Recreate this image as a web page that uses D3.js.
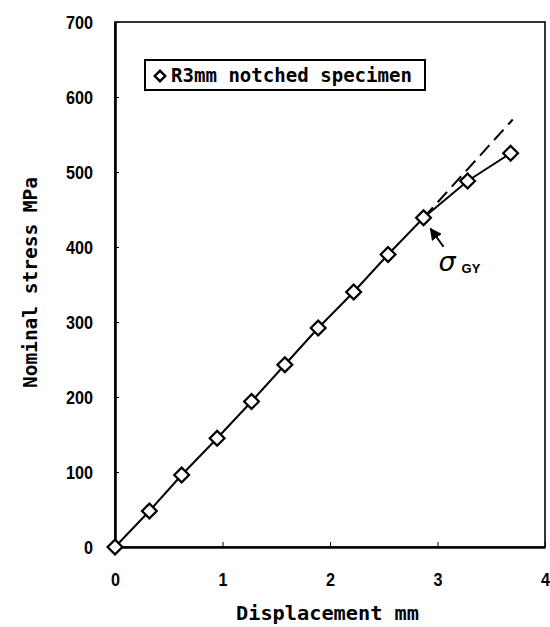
<!DOCTYPE html>
<html>
<head>
<meta charset="utf-8">
<script src="https://d3js.org/d3.v7.min.js"></script>
<style>
body { margin: 0; background: #fff; }
.tick text { font-family: "Liberation Sans", sans-serif; font-size: 19px; fill: #000; font-weight: bold; }
.lab { font-family: "DejaVu Sans Mono", monospace; font-size: 19px; fill: #000; font-weight: bold; }
</style>
</head>
<body>
<svg id="chart"></svg>
<script>
// measured points (displacement mm, nominal stress MPa)
var disp = [0, 0.32, 0.62, 0.95, 1.27, 1.58, 1.89, 2.22, 2.54, 2.87, 3.28, 3.68];
var stress = [0, 48, 96, 145, 194, 243, 292, 340, 390, 439, 488, 525];
// linear extrapolation beyond sigma_GY
var extDisp = [2.87, 3.70];
var extStress = [439, 570];
var xTicks = [0, 1, 2, 3, 4];
var yTicks = [0, 100, 200, 300, 400, 500, 600, 700];
var gyIndex = 9;

var W = 550, H = 627;
var ml = 115, mt = 22, w = 430, h = 525;

var svg = d3.select("#chart").attr("width", W).attr("height", H);
var g = svg.append("g").attr("transform", "translate(" + ml + "," + mt + ")");

var x = d3.scaleLinear().domain([0, 4]).range([0, w]);
var y = d3.scaleLinear().domain([0, 700]).range([h, 0]);

// frame
g.append("rect").attr("x", 0).attr("y", 0).attr("width", w).attr("height", h)
    .attr("fill", "none").attr("stroke", "#000").attr("stroke-width", 1.6);

var yAxis = g.append("g")
    .call(d3.axisLeft(y).tickValues(yTicks).tickFormat(d3.format("d"))
        .tickSizeInner(-4).tickSizeOuter(0).tickPadding(22));
yAxis.select(".domain").attr("stroke-width", 2.6);
yAxis.selectAll(".tick line").attr("stroke-width", 1);
yAxis.selectAll(".tick text").attr("dy", "0.36em")
    .attr("textLength", function(d) { return String(d).length * 9; })
    .attr("lengthAdjust", "spacingAndGlyphs");

var xAxis = g.append("g").attr("transform", "translate(0," + h + ")")
    .call(d3.axisBottom(x).tickValues(xTicks).tickFormat(d3.format("d"))
        .tickSizeInner(-5).tickSizeOuter(0).tickPadding(26));
xAxis.select(".domain").attr("stroke-width", 2.6);
xAxis.selectAll(".tick line").attr("stroke-width", 1);
xAxis.selectAll(".tick text").attr("dy", "0").attr("y", 39)
    .attr("textLength", 9).attr("lengthAdjust", "spacingAndGlyphs");

// axis titles
svg.append("text").attr("class", "lab")
    .attr("x", 236).attr("y", 620)
    .attr("textLength", 183).attr("lengthAdjust", "spacingAndGlyphs")
    .text("Displacement mm");

svg.append("text").attr("class", "lab")
    .attr("transform", "translate(37,388) rotate(-90)")
    .attr("textLength", 211).attr("lengthAdjust", "spacingAndGlyphs")
    .text("Nominal stress MPa");

// dashed extension
var line = d3.line().x(function(d) { return x(d[0]); }).y(function(d) { return y(d[1]); });
g.append("path")
    .datum(d3.zip(extDisp, extStress))
    .attr("d", line)
    .attr("fill", "none").attr("stroke", "#000").attr("stroke-width", 2)
    .attr("stroke-dasharray", "14,7");

// measured curve
g.append("path")
    .datum(d3.zip(disp, stress))
    .attr("d", line)
    .attr("fill", "none").attr("stroke", "#000").attr("stroke-width", 2);

var sym = d3.symbol().type(d3.symbolSquare).size(110);
g.selectAll(".pt").data(d3.zip(disp, stress)).enter().append("path")
    .attr("class", "pt")
    .attr("d", sym)
    .attr("transform", function(d) { return "translate(" + x(d[0]) + "," + y(d[1]) + ") rotate(45)"; })
    .attr("fill", "#fff").attr("stroke", "#000").attr("stroke-width", 2.2);

// sigma_GY annotation
var gx = x(disp[gyIndex]), gy = y(stress[gyIndex]);
svg.append("defs").append("marker")
    .attr("id", "arr").attr("viewBox", "0 0 10 10").attr("refX", 9).attr("refY", 5)
    .attr("markerWidth", 6).attr("markerHeight", 6).attr("orient", "auto")
    .append("path").attr("d", "M0,0 L10,5 L0,10 Z").attr("fill", "#000");
g.append("line")
    .attr("x1", gx + 20).attr("y1", gy + 29)
    .attr("x2", gx + 7).attr("y2", gy + 11)
    .attr("stroke", "#000").attr("stroke-width", 2).attr("marker-end", "url(#arr)");
g.append("text")
    .attr("x", gx + 15).attr("y", gy + 53)
    .style("font-family", "DejaVu Sans, sans-serif").style("font-style", "italic")
    .style("font-size", "27px").text("σ");
g.append("text")
    .attr("x", gx + 38).attr("y", gy + 55)
    .style("font-family", "Liberation Sans, sans-serif").style("font-weight", "bold")
    .style("font-size", "13px").text("GY");

// legend
var leg = svg.append("g");
leg.append("rect").attr("x", 145).attr("y", 60).attr("width", 280).attr("height", 30)
    .attr("fill", "#fff").attr("stroke", "#000").attr("stroke-width", 2);
leg.append("path").attr("d", d3.symbol().type(d3.symbolSquare).size(56))
    .attr("transform", "translate(160,76) rotate(45)")
    .attr("fill", "#fff").attr("stroke", "#000").attr("stroke-width", 2.4);
leg.append("text").attr("class", "lab")
    .attr("x", 171).attr("y", 82)
    .attr("textLength", 241).attr("lengthAdjust", "spacingAndGlyphs")
    .text("R3mm notched specimen");
</script>
</body>
</html>
